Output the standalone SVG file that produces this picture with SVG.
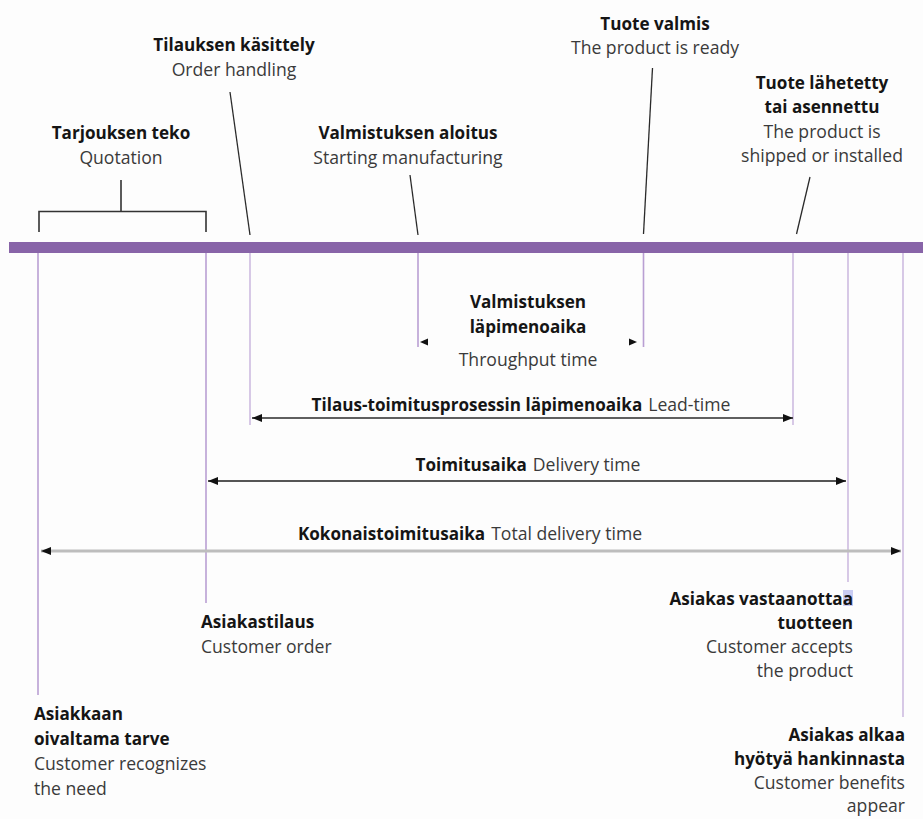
<svg xmlns="http://www.w3.org/2000/svg" width="923" height="819" viewBox="0 0 923 819">
<style>
text{font-family:"Open Sans","Noto Sans","Liberation Sans",sans-serif;font-size:17.6px}
.b{font-weight:700;fill:#151515;font-size:17.1px}
.r{fill:#3a3a3a}
.m{text-anchor:middle}
.e{text-anchor:end}
.vl{stroke:#b99fd3;stroke-width:1.6;fill:none}
.vl2{stroke:#cdbbe0;stroke-width:1.6;fill:none}
.ld{stroke:#2a2a2a;stroke-width:1.3;fill:none}
.br{stroke:#333;stroke-width:1.6;fill:none}
</style>
<defs>
<marker id="ah" viewBox="0 0 10 8" refX="10" refY="4" markerWidth="10" markerHeight="8" markerUnits="userSpaceOnUse" orient="auto-start-reverse">
<path d="M0,0 L10,4 L0,8 Z" fill="#111"/>
</marker>
</defs>
<rect x="0" y="0" width="923" height="819" fill="#fdfdfd"/>
<rect id="timeline" x="9" y="242" width="914" height="11" fill="#8864a8"/>
<g id="connectors">
<line class="vl" x1="38" y1="253" x2="38" y2="695"/>
<line class="vl" x1="206" y1="253" x2="206" y2="603"/>
<line class="vl2" x1="250" y1="253" x2="250" y2="425"/>
<line class="vl" x1="418" y1="253" x2="418" y2="347"/>
<line class="vl" x1="643.5" y1="253" x2="643.5" y2="347"/>
<line class="vl2" x1="793" y1="253" x2="793" y2="425"/>
<line class="vl2" x1="848" y1="253" x2="848" y2="582"/>
<line class="vl2" x1="903" y1="253" x2="903" y2="717"/>
<line class="ld" x1="230" y1="92" x2="250" y2="235"/>
<line class="ld" x1="410" y1="175" x2="418" y2="235"/>
<line class="ld" x1="652.5" y1="68" x2="643.5" y2="234"/>
<line class="ld" x1="810" y1="177" x2="796.5" y2="234"/>
<path class="br" d="M121,180 V211.5 M39,232 V211.5 H206 V232"/>
<path d="M420,342 L428,338.5 L428,345.5 Z" fill="#111"/>
<path d="M637,342 L629,338.5 L629,345.5 Z" fill="#111"/>
<line x1="252" y1="418" x2="793" y2="418" stroke="#2a2a2a" stroke-width="1.6" marker-start="url(#ah)" marker-end="url(#ah)"/>
<line x1="208" y1="481" x2="846" y2="481" stroke="#555" stroke-width="2" marker-start="url(#ah)" marker-end="url(#ah)"/>
<line x1="41" y1="551" x2="901" y2="551" stroke="#bdbdbd" stroke-width="3" marker-start="url(#ah)" marker-end="url(#ah)"/>
</g>
<g id="tarjous">
<text class="b m" x="121" y="139">Tarjouksen teko</text>
<text class="r m" x="121" y="164">Quotation</text>
</g>
<g id="tilaus">
<text class="b m" x="234" y="51">Tilauksen käsittely</text>
<text class="r m" x="234" y="76">Order handling</text>
</g>
<g id="valm-aloitus">
<text class="b m" x="408" y="139">Valmistuksen aloitus</text>
<text class="r m" x="408" y="164">Starting manufacturing</text>
</g>
<g id="tuote-valmis">
<text class="b m" x="655" y="30">Tuote valmis</text>
<text class="r m" x="655" y="54">The product is ready</text>
</g>
<g id="tuote-lahetetty">
<text class="b m" x="822" y="89">Tuote lähetetty</text>
<text class="b m" x="822" y="113">tai asennettu</text>
<text class="r m" x="822" y="138">The product is</text>
<text class="r m" x="822" y="162">shipped or installed</text>
</g>
<g id="throughput">
<text class="b m" x="528" y="308">Valmistuksen</text>
<text class="b m" x="528" y="333">läpimenoaika</text>
<text class="r m" x="528" y="366">Throughput time</text>
</g>
<g id="leadtime">
<text class="m" x="521" y="411"><tspan class="b">Tilaus-toimitusprosessin läpimenoaika</tspan><tspan class="r" dx="6">Lead-time</tspan></text>
</g>
<g id="delivery">
<text class="m" x="528" y="471"><tspan class="b">Toimitusaika</tspan><tspan class="r" dx="6">Delivery time</tspan></text>
</g>
<g id="total">
<text class="m" x="470" y="540"><tspan class="b">Kokonaistoimitusaika</tspan><tspan class="r" dx="6">Total delivery time</tspan></text>
</g>
<g id="asiakastilaus">
<text class="b" x="201" y="628">Asiakastilaus</text>
<text class="r" x="201" y="653">Customer order</text>
</g>
<g id="tarve">
<text class="b" x="34" y="720">Asiakkaan</text>
<text class="b" x="34" y="745">oivaltama tarve</text>
<text class="r" x="34" y="770">Customer recognizes</text>
<text class="r" x="34" y="795">the need</text>
</g>
<g id="vastaanottaa">
<rect x="843" y="590" width="10" height="16" fill="#c9ccf3"/>
<text class="b e" x="853" y="605">Asiakas vastaanottaa</text>
<text class="b e" x="853" y="629">tuotteen</text>
<text class="r e" x="853" y="653">Customer accepts</text>
<text class="r e" x="853" y="677">the product</text>
</g>
<g id="hyoty">
<text class="b e" x="905" y="741">Asiakas alkaa</text>
<text class="b e" x="905" y="765">hyötyä hankinnasta</text>
<text class="r e" x="905" y="789">Customer benefits</text>
<text class="r e" x="905" y="812">appear</text>
</g>
</svg>
